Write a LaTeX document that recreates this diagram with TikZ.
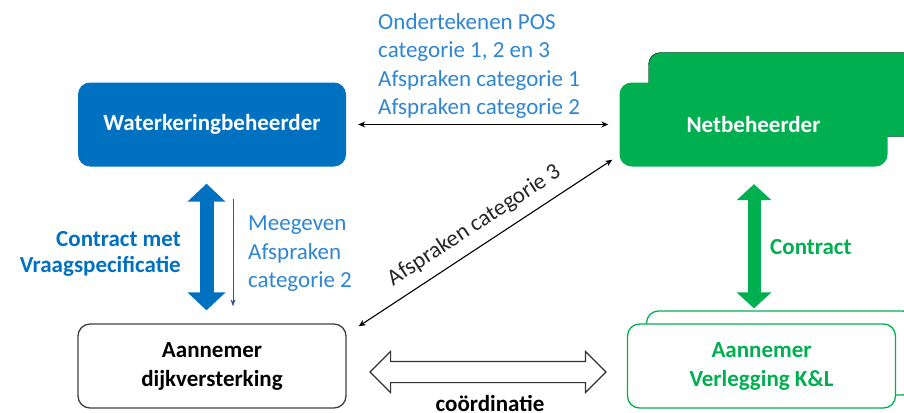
\documentclass[tikz,border=0pt]{standalone}
\usepackage{fontspec}
\setmainfont{Carlito}
\usetikzlibrary{arrows.meta,positioning,shapes.arrows,shadows,calc}
\definecolor{WkBlue}{HTML}{0070C0}
\definecolor{WkText}{HTML}{2E86D3}
\definecolor{WkThin}{HTML}{2F5597}
\definecolor{NbGreen}{HTML}{00B050}
\tikzset{
  party/.style={rounded corners=12pt, minimum width=268pt, minimum height=84pt,
    align=center, font=\bfseries\fontsize{23}{29}\selectfont},
  beheerder/.style={party, fill=WkBlue, text=white},
  netbeheerder/.style={party, fill=NbGreen, text=white,
    copy shadow={shadow xshift=29pt, shadow yshift=30pt}},
  aannemer/.style={party, draw=black!75, line width=1.3pt},
  klaannemer/.style={party, draw=NbGreen, fill=white, text=NbGreen, line width=1.3pt,
    copy shadow={shadow xshift=19pt, shadow yshift=13pt}},
  thinwire/.style={{Stealth[length=7pt,width=6pt]}-{Stealth[length=7pt,width=6pt]}, line width=1.1pt},
  bigwire/.style={{Triangle[length=18pt,width=37pt]}-{Triangle[length=18pt,width=37pt]}, line width=14pt},
  coordarrow/.style={double arrow, draw=black!80, fill=white, line width=1.1pt,
    minimum height=236pt, minimum width=40pt, inner sep=10pt,
    double arrow head extend=10pt},
  labeltext/.style={font=\fontsize{23}{28.5}\selectfont, inner sep=0pt},
  boldlabel/.style={labeltext, font=\bfseries\fontsize{23}{26.5}\selectfont}
}

\begin{document}
\begin{tikzpicture}[x=1pt, y=-1pt]
  \useasboundingbox (0,0) rectangle (904,412);
  % parties
  \node[beheerder] (wkb) at (212,124.5) {Waterkeringbeheerder};
  \node[netbeheerder] (nb) at (753.5,124.5) {Netbeheerder};
  \node[aannemer] (adk) at (212,366) {Aannemer\\dijkversterking};
  \node[klaannemer] (akl) at (761.5,366) {Aannemer\\Verlegging K\&L};
  % agreements
  \draw[thinwire, shorten <=12pt, shorten >=11pt] (wkb) -- (nb);
  \node[labeltext, text=WkText, align=left, anchor=west] (pos) at (378,66)
    {Ondertekenen POS\\categorie 1, 2 en 3\\Afspraken categorie 1\\Afspraken categorie 2};
  \draw[thinwire] ([xshift=12pt,yshift=-3pt]adk.north east) -- 
    node[labeltext, sloped, above=10pt, text=black!85]{Afspraken categorie 3}
    ([xshift=-7pt,yshift=7pt]nb.south west);
  % contracts
  \draw[bigwire, WkBlue, shorten <=17pt, shorten >=13pt]
    ([xshift=-5.5pt]wkb.south) -- ([xshift=-5.5pt]adk.north);
  \node[boldlabel, text=WkBlue, align=right, anchor=east] (vraag) at (181,254)
    {Contract met\\Vraagspecificatie};
  \draw[-{Stealth[length=7pt,width=5pt]}, WkThin, line width=1pt, shorten <=32pt, shorten >=17pt]
    ([xshift=21pt]wkb.south) -- ([xshift=21pt]adk.north);
  \node[labeltext, text=WkText, align=left, anchor=west] (meegeven) at (248,254)
    {Meegeven\\Afspraken\\categorie 2};
  \draw[NbGreen, line width=13pt, {Triangle[length=16pt,width=34pt]}-{Triangle[length=16pt,width=34pt]},
    shorten <=17.5pt, shorten >=15pt]
    ([xshift=0.5pt]nb.south) -- ([xshift=-7.5pt]akl.north);
  \node[boldlabel, text=NbGreen, anchor=west] (contract) at (770,247) {Contract};
  % coordination
  \node[coordarrow] (coord) at (488,372) {};
  \node[boldlabel, text=black] (coordlabel) at (490,403) {coördinatie};
\end{tikzpicture}
\end{document}
